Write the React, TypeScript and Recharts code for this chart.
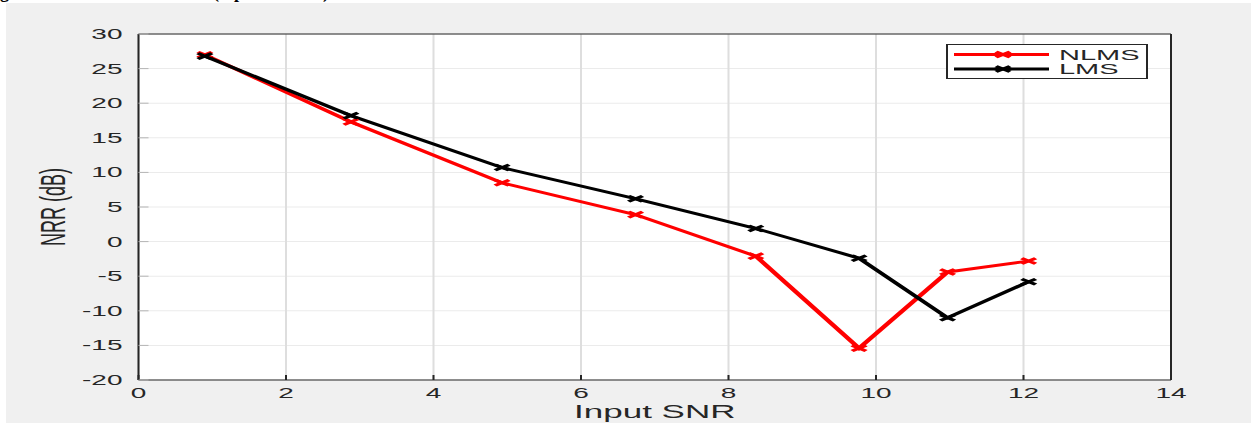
import { LineChart, Line, XAxis, YAxis, CartesianGrid } from "recharts";

// values
const snr = [0.9, 2.88, 4.93, 6.74, 8.37, 9.77, 10.97, 12.07];
const nlms = [27, 17.3, 8.5, 3.9, -2.1, -15.4, -4.4, -2.8];
const lms = [26.8, 18.2, 10.7, 6.2, 1.9, -2.4, -11.0, -5.8];
const xTicks = [0, 2, 4, 6, 8, 10, 12, 14];
const yTicks = [-20, -15, -10, -5, 0, 5, 10, 15, 20, 25, 30];
const seriesKeys = ["nlms", "lms"];
const seriesNames = ["NLMS", "LMS"];
const seriesColors = ["#ff0000", "#000000"];

const data = snr.map((x, i) => ({ snr: x, nlms: nlms[i], lms: lms[i] }));

// the original figure was stretched horizontally, so draw at half width and scale
const STRETCH = 2;
const W = 626;
const H = 423;
const FONT = '"Liberation Sans", Arial, Helvetica, sans-serif';
const INK = "#262626";

function XMark(props: any) {
    const { cx, cy, stroke } = props;
    if (cx == null || cy == null) return null;
    const sx = 3.5;
    const sy = 2.8;
    return (
        <path
            d={`M${cx - sx},${cy - sy}L${cx + sx},${cy + sy}M${cx - sx},${cy + sy}L${cx + sx},${cy - sy}`}
            stroke={stroke}
            strokeWidth={2.6}
            fill="none"
        />
    );
}

function XTitle(props: any) {
    const vb = props.viewBox || { x: 69, y: 380, width: 516, height: 43 };
    return (
        <text
            x={vb.x + vb.width / 2}
            y={vb.y + 38}
            textAnchor="middle"
            fontSize={17.5}
            fontFamily={FONT}
            fill={INK}
        >
            Input SNR
        </text>
    );
}

function YTitle(props: any) {
    const vb = props.viewBox || { x: 0, y: 34, width: 69, height: 346 };
    const cx = 26;
    const cy = vb.y + vb.height / 2;
    return (
        <text
            x={cx}
            y={cy}
            transform={`rotate(-90 ${cx} ${cy})`}
            textAnchor="middle"
            dominantBaseline="central"
            fontSize={18}
            fontFamily={FONT}
            fill={INK}
        >
            NRR (dB)
        </text>
    );
}

function LegendBox() {
    return (
        <div
            style={{
                position: "absolute",
                left: 472.5,
                top: 44,
                width: 101,
                height: 35,
                background: "#fff",
                border: `1px solid ${INK}`,
                boxSizing: "border-box",
            }}
        >
            <svg width={99} height={33} style={{ display: "block" }}>
                {seriesNames.map((name, i) => {
                    const y = 9.5 + i * 14.5;
                    return (
                        <g key={name}>
                            <line x1={3} x2={50.5} y1={y} y2={y} stroke={seriesColors[i]} strokeWidth={2.8} />
                            <XMark cx={27.5} cy={y} stroke={seriesColors[i]} />
                            <text x={55.5} y={y} dy="0.36em" fontSize={14.5} fontFamily={FONT} fill={INK}>
                                {name}
                            </text>
                        </g>
                    );
                })}
            </svg>
        </div>
    );
}

const captionStyle: any = {
    position: "absolute",
    top: -17,
    font: 'bold 18px "Liberation Serif", serif',
    lineHeight: "18px",
    whiteSpace: "nowrap",
};

export default function App() {
    return (
        <div
            style={{
                position: "absolute",
                left: 0,
                top: 0,
                width: 1251,
                height: 423,
                overflow: "hidden",
                background: "#fff",
            }}
        >
            <div style={{ ...captionStyle, left: -16 }}>Figure 4.8: NRR Curves</div>
            <div style={{ ...captionStyle, left: 213 }}>(top to bottom)</div>
            <div style={{ position: "absolute", left: 6, top: 3, right: 0, bottom: 0, background: "#f0f0f0" }} />

            <div
                style={{
                    position: "absolute",
                    left: 0,
                    top: 0,
                    width: W,
                    height: H,
                    transform: `scaleX(${STRETCH})`,
                    transformOrigin: "0 0",
                }}
            >
                <LineChart width={W} height={H} data={data} margin={{ top: 33, right: 39.5, bottom: 0, left: 0 }}>
                    <CartesianGrid vertical={false} stroke="#ebebeb" fill="#ffffff" />
                    <CartesianGrid horizontal={false} stroke="#dedede" />
                    <XAxis
                        dataKey="snr"
                        type="number"
                        domain={[0, 14]}
                        ticks={xTicks}
                        interval={0}
                        height={43}
                        tickSize={-5}
                        tickMargin={13}
                        stroke={INK}
                        tick={{ fontSize: 14, fill: INK, fontFamily: FONT }}
                        label={<XTitle />}
                    />
                    <XAxis
                        xAxisId="top"
                        orientation="top"
                        dataKey="snr"
                        type="number"
                        domain={[0, 14]}
                        ticks={xTicks}
                        interval={0}
                        height={1}
                        tickSize={-5}
                        stroke={INK}
                        tick={false}
                    />
                    <YAxis
                        type="number"
                        domain={[-20, 30]}
                        ticks={yTicks}
                        interval={0}
                        width={69.25}
                        tickSize={-5}
                        tickMargin={13}
                        stroke={INK}
                        tickLine={{ stroke: "#b5b5b5" }}
                        tick={{ fontSize: 14, fill: INK, fontFamily: FONT }}
                        label={<YTitle />}
                    />
                    <YAxis
                        yAxisId="right"
                        orientation="right"
                        type="number"
                        domain={[-20, 30]}
                        ticks={yTicks}
                        interval={0}
                        width={1}
                        tickSize={-5}
                        stroke={INK}
                        tickLine={{ stroke: "#b5b5b5" }}
                        tick={false}
                    />
                    {seriesKeys.map((key, i) => (
                        <Line
                            key={key}
                            dataKey={key}
                            name={seriesNames[i]}
                            type="linear"
                            stroke={seriesColors[i]}
                            strokeWidth={2.8}
                            dot={<XMark />}
                            activeDot={false}
                            isAnimationActive={false}
                        />
                    ))}
                </LineChart>
                <LegendBox />
            </div>
        </div>
    );
}
